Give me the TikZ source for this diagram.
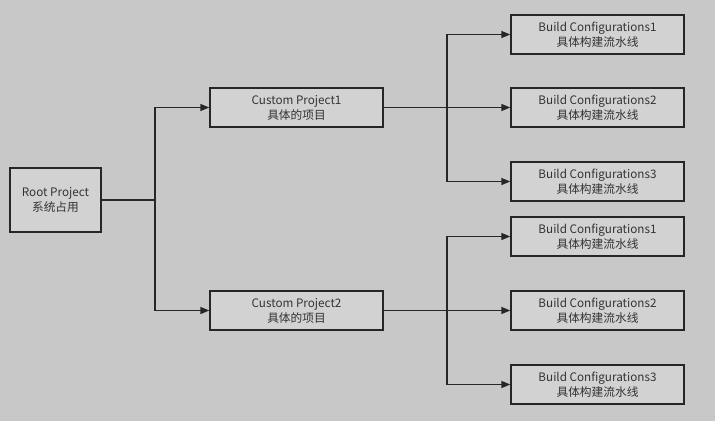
\documentclass[tikz,border=0pt]{standalone}
\usepackage{fontspec}
\setmainfont{Noto Sans CJK SC}
\usetikzlibrary{arrows.meta}
\definecolor{bg}{HTML}{C8C8C8}
\definecolor{boxfill}{HTML}{D2D2D2}
\definecolor{edge}{HTML}{262626}
\tikzset{
  box/.style={draw=edge, fill=boxfill, line width=1.4pt, minimum width=173pt, minimum height=39pt, inner sep=0pt, align=center, font=\fontsize{11.7pt}{15pt}\selectfont, text=black!80},
  rootbox/.style={box, minimum width=91pt, minimum height=64pt},
  link/.style={draw=edge, line width=1.4pt, -{Triangle[length=9pt,width=7pt]}},
  plain/.style={draw=edge, line width=1.4pt}
}
\begin{document}
\begin{tikzpicture}[x=1pt,y=-1pt]
\fill[bg] (0,0) rectangle (715,421);
\useasboundingbox (0,0) rectangle (715,421);
\node[rootbox] (root) at (55.5,200) {Root Project\\系统占用};
\node[box] (cp1) at (296.5,107.5) {Custom Project1\\具体的项目};
\node[box] (cp2) at (296.5,310.5) {Custom Project2\\具体的项目};
\node[box] (b1) at (597.5,34.5) {Build Configurations1\\具体构建流水线};
\node[box] (b2) at (597.5,107.5) {Build Configurations2\\具体构建流水线};
\node[box] (b3) at (597.5,181.5) {Build Configurations3\\具体构建流水线};
\node[box] (b4) at (597.5,236.5) {Build Configurations1\\具体构建流水线};
\node[box] (b5) at (597.5,310.5) {Build Configurations2\\具体构建流水线};
\node[box] (b6) at (597.5,384.5) {Build Configurations3\\具体构建流水线};
\coordinate (j0) at (155,200);
\coordinate (j1) at (447,107.5);
\coordinate (j2) at (447,310.5);
\draw[plain] (root.east) -- (j0);
\draw[link] (j0) |- (cp1.west);
\draw[link] (j0) |- (cp2.west);
\draw[plain] (cp1.east) -- (j1);
\draw[link] (j1) |- (b1.west);
\draw[link] (j1) -- (b2.west);
\draw[link] (j1) |- (b3.west);
\draw[plain] (cp2.east) -- (j2);
\draw[link] (j2) |- (b4.west);
\draw[link] (j2) -- (b5.west);
\draw[link] (j2) |- (b6.west);
\end{tikzpicture}
\end{document}
